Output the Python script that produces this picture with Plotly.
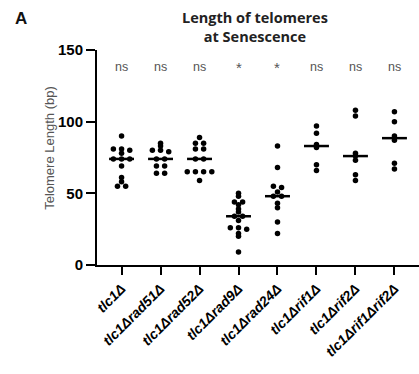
import numpy as np
import plotly.graph_objects as go

# Strains (x categories) and telomere length at senescence (bp)
strains = ["tlc1Δ", "tlc1Δrad51Δ", "tlc1Δrad52Δ", "tlc1Δrad9Δ",
           "tlc1Δrad24Δ", "tlc1Δrif1Δ", "tlc1Δrif2Δ", "tlc1Δrif1Δrif2Δ"]

tlc1 = [90, 81, 81, 80, 78, 74, 74, 74, 69, 61, 58, 55, 55]
tlc1_rad51 = [85, 83, 80, 80, 79, 74, 74, 69, 69, 64, 64]
tlc1_rad52 = [89, 85, 85, 81, 81, 74, 74, 65, 65, 65, 65, 59]
tlc1_rad9 = [50, 48, 44, 44, 42, 39, 37, 34, 34, 31, 26, 26, 25, 22, 20, 9]
tlc1_rad24 = [83, 68, 55, 54, 51, 48, 48, 43, 40, 30, 22]
tlc1_rif1 = [97, 92, 84, 82, 70, 66]
tlc1_rif2 = [108, 104, 78, 76, 73, 63, 59]
tlc1_rif1_rif2 = [107, 100, 90, 87, 71, 67]

significance = ["ns", "ns", "ns", "*", "*", "ns", "ns", "ns"]

y_ticks = [0, 50, 100, 150]

series = [tlc1, tlc1_rad51, tlc1_rad52, tlc1_rad9,
          tlc1_rad24, tlc1_rif1, tlc1_rif2, tlc1_rif1_rif2]

ROW_TOL = 1.5      # values closer than this share a horizontal row
SPREAD = 0.21      # horizontal spacing between dots in a row (category units)
HALF_BAR = 0.32    # half-width of the median bar


def swarm_offsets(vals):
    """Group near-equal values into rows and spread each row symmetrically."""
    order = sorted(range(len(vals)), key=lambda i: -vals[i])
    rows, cur = [], []
    for i in order:
        if cur and abs(vals[cur[0]] - vals[i]) > ROW_TOL:
            rows.append(cur)
            cur = []
        cur.append(i)
    if cur:
        rows.append(cur)
    off = [0.0] * len(vals)
    for row in rows:
        n = len(row)
        for k, i in enumerate(row):
            off[i] = (k - (n - 1) / 2) * SPREAD
    return off


fig = go.Figure()

px, py = [], []
mx, my = [], []
for g, vals in enumerate(series):
    offs = swarm_offsets(vals)
    px += [g + o for o in offs]
    py += list(vals)
    med = float(np.median(vals))
    mx += [g - HALF_BAR, g + HALF_BAR, None]
    my += [med, med, None]

fig.add_trace(go.Scatter(
    x=px, y=py, mode="markers",
    marker=dict(size=5.5, color="black"),
    showlegend=False, hoverinfo="y",
))
fig.add_trace(go.Scatter(
    x=mx, y=my, mode="lines",
    line=dict(color="black", width=2.5),
    showlegend=False, hoverinfo="skip",
))

annotations = []
for g, s in enumerate(significance):
    star = s != "ns"
    annotations.append(dict(
        x=g, y=137.5 if star else 138, xref="x", yref="y", text=s,
        showarrow=False, xanchor="center", yanchor="middle",
        font=dict(family="Liberation Sans", size=15 if star else 12.5,
                  color="#555"),
    ))

annotations.append(dict(
    x=0.49, y=1.107, xref="paper", yref="paper",
    xanchor="center", yanchor="middle",
    text="Length of telomeres<br>at Senescence", showarrow=False,
    font=dict(family="Open Sans", size=14.5, color="#222", weight="bold"),
    align="center",
))
annotations.append(dict(
    x=-0.262, y=1.145, xref="paper", yref="paper",
    xanchor="left", yanchor="middle",
    text="A", showarrow=False,
    font=dict(family="Liberation Sans", size=17, color="#111", weight="bold"),
))
annotations.append(dict(
    x=-0.146, y=0.545, xref="paper", yref="paper",
    xanchor="center", yanchor="middle",
    text="Telomere Length (bp)", showarrow=False, textangle=-90,
    font=dict(family="Liberation Sans", size=13, color="#555"),
))

fig.update_layout(
    width=419, height=374,
    margin=dict(l=97, r=0, t=50, b=109),
    paper_bgcolor="white", plot_bgcolor="white",
    annotations=annotations,
    xaxis=dict(
        range=[-0.63, 7.63], tickmode="array",
        tickvals=list(range(len(strains))), ticktext=strains,
        tickangle=-45, ticks="outside", ticklen=8, tickwidth=2,
        tickcolor="black", showline=True, linecolor="black", linewidth=2,
        showgrid=False, zeroline=False,
        tickfont=dict(family="Liberation Sans", size=14, color="black",
                      weight="bold", style="italic"),
    ),
    yaxis=dict(
        range=[0, 150], tickvals=y_ticks, ticks="outside", ticklen=9,
        tickwidth=2, tickcolor="black", showline=True, linecolor="black",
        linewidth=2, showgrid=False, zeroline=False,
        tickfont=dict(family="Liberation Sans", size=15, color="black",
                      weight="bold"),
    ),
)

fig.write_html("out.html")
